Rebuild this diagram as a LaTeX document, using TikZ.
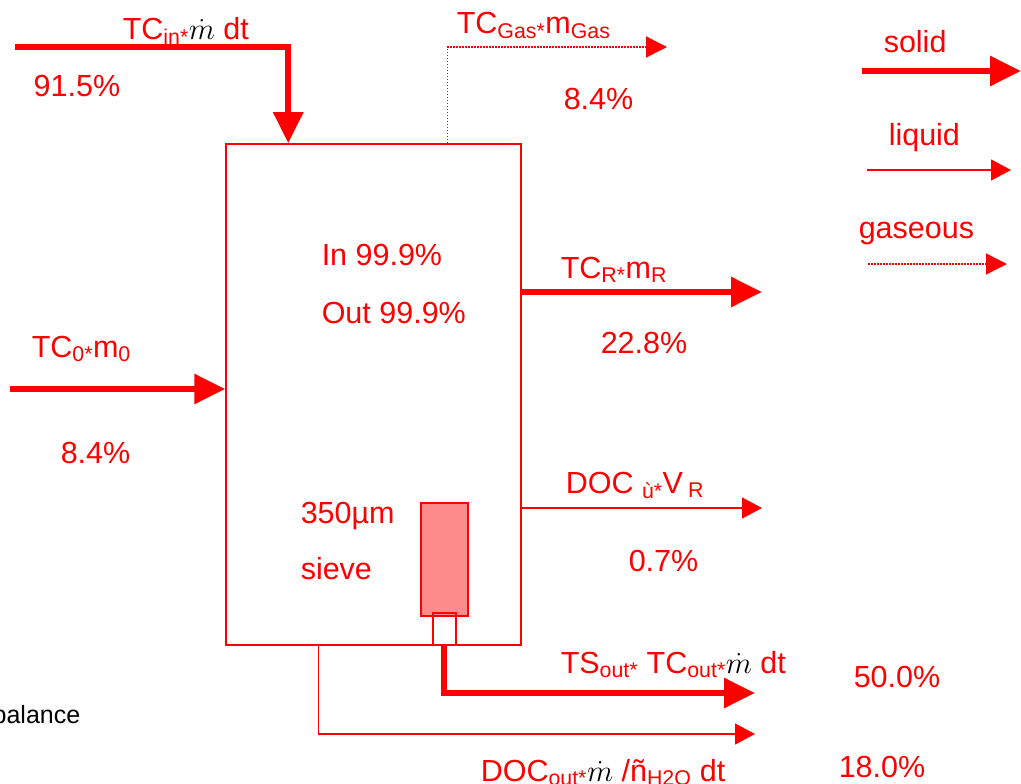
\RequirePackage{fix-cm}
\documentclass[tikz,border=0pt]{standalone}
\usepackage{fontspec}
\setmainfont{Liberation Sans}
\usetikzlibrary{arrows.meta}
\newcommand{\mdot}{\textcolor{black}{$\dot{m}$}}
\begin{document}
\begin{tikzpicture}[x=1pt, y=-1pt, red, line width=1.5pt,
  solidflow/.style={line width=6pt, -{Triangle[length=31pt,width=29pt]}},
  liquidflow/.style={line width=1.5pt, -{Triangle[length=20pt,width=21pt]}},
  gasflow/.style={line width=1.5pt, dash pattern=on 1.5pt off 1.5pt, -{Triangle[length=21pt,width=21pt]}},
  lbl/.style={anchor=base west, inner sep=0pt, text=red, font=\fontsize{30.5}{36}\selectfont}]
\useasboundingbox (0,0) rectangle (1021,784);
\node[draw, inner sep=0pt, minimum width=295pt, minimum height=501pt] (reactor) at (373.5,394.5) {};
\node[draw, fill=red!45, inner sep=0pt, minimum width=47pt, minimum height=113pt] (sieve) at (444.5,559.5) {};
\node[draw, inner sep=0pt, minimum width=23pt, minimum height=32pt] (neck) at (444.5,629) {};
\coordinate (inStart) at (15,47);
\coordinate (gasEnd) at (667,47);
\coordinate (rEnd) at (762,292);
\coordinate (zeroStart) at (10,389);
\coordinate (docEnd) at (762,508);
\coordinate (outEnd) at (755,693);
\coordinate (docOutEnd) at (755,734);
\coordinate (solidA) at (862,71);
\coordinate (solidB) at (1021,71);
\coordinate (liquidA) at (867,170);
\coordinate (liquidB) at (1011,170);
\coordinate (gasA) at (868,264);
\coordinate (gasB) at (1007,264);
\draw[solidflow] (inStart) -| ([xshift=63pt]reactor.north west);
\draw[gasflow] ([xshift=222pt]reactor.north west) |- (gasEnd);
\draw[solidflow] (reactor.east |- rEnd) -- (rEnd);
\draw[solidflow] (zeroStart) -- (reactor.west |- zeroStart);
\draw[liquidflow] (reactor.east |- docEnd) -- (docEnd);
\draw[solidflow] ([xshift=-1pt]neck.south) |- (outEnd);
\draw[liquidflow] ([xshift=93pt]reactor.south west) |- (docOutEnd);
\draw[solidflow] (solidA) -- (solidB);
\draw[liquidflow] (liquidA) -- (liquidB);
\draw[gasflow] (gasA) -- (gasB);
\node[lbl] (inLbl) at (122,40) {TC\textsubscript{in*}\mdot{} dt};
\node[lbl] (inPct) at (33,97) {91.5\%};
\node[lbl] (gasLbl) at (456,34) {TC\textsubscript{Gas*}m\textsubscript{Gas}};
\node[lbl] (gasPct) at (563,110) {8.4\%};
\node[lbl] (solidLbl) at (883,53) {solid};
\node[lbl] (liquidLbl) at (888,145) {liquid};
\node[lbl] (gasLeg) at (858,238) {gaseous};
\node[lbl] (inBal) at (321,265) {In 99.9\%};
\node[lbl] (outBal) at (321,323) {Out 99.9\%};
\node[lbl] (rLbl) at (560,278) {TC\textsubscript{R*}m\textsubscript{R}};
\node[lbl] (rPct) at (600,353) {22.8\%};
\node[lbl] (zeroLbl) at (31,357) {TC\textsubscript{0*}m\textsubscript{0}};
\node[lbl] (zeroPct) at (60,463) {8.4\%};
\node[lbl] (docLbl) at (565,493) {DOC\ \textsubscript{ù*}V\,\textsubscript{R}};
\node[lbl] (docPct) at (628,571) {0.7\%};
\node[lbl] (meshLbl) at (300,523) {350µm};
\node[lbl] (sieveLbl) at (300,579) {sieve};
\node[lbl] (outLbl) at (560,673) {TS\textsubscript{out*} TC\textsubscript{out*}\mdot{} dt};
\node[lbl] (outPct) at (853,687) {50.0\%};
\node[lbl] (docOutLbl) at (480,781) {DOC\textsubscript{out*}\mdot{} /ñ\textsubscript{H2O} dt};
\node[lbl] (docOutPct) at (838,777) {18.0\%};
\node[anchor=base east, inner sep=0pt, text=black, font=\fontsize{25}{30}\selectfont] (balLbl) at (81,723) {balance};
\end{tikzpicture}
\end{document}
